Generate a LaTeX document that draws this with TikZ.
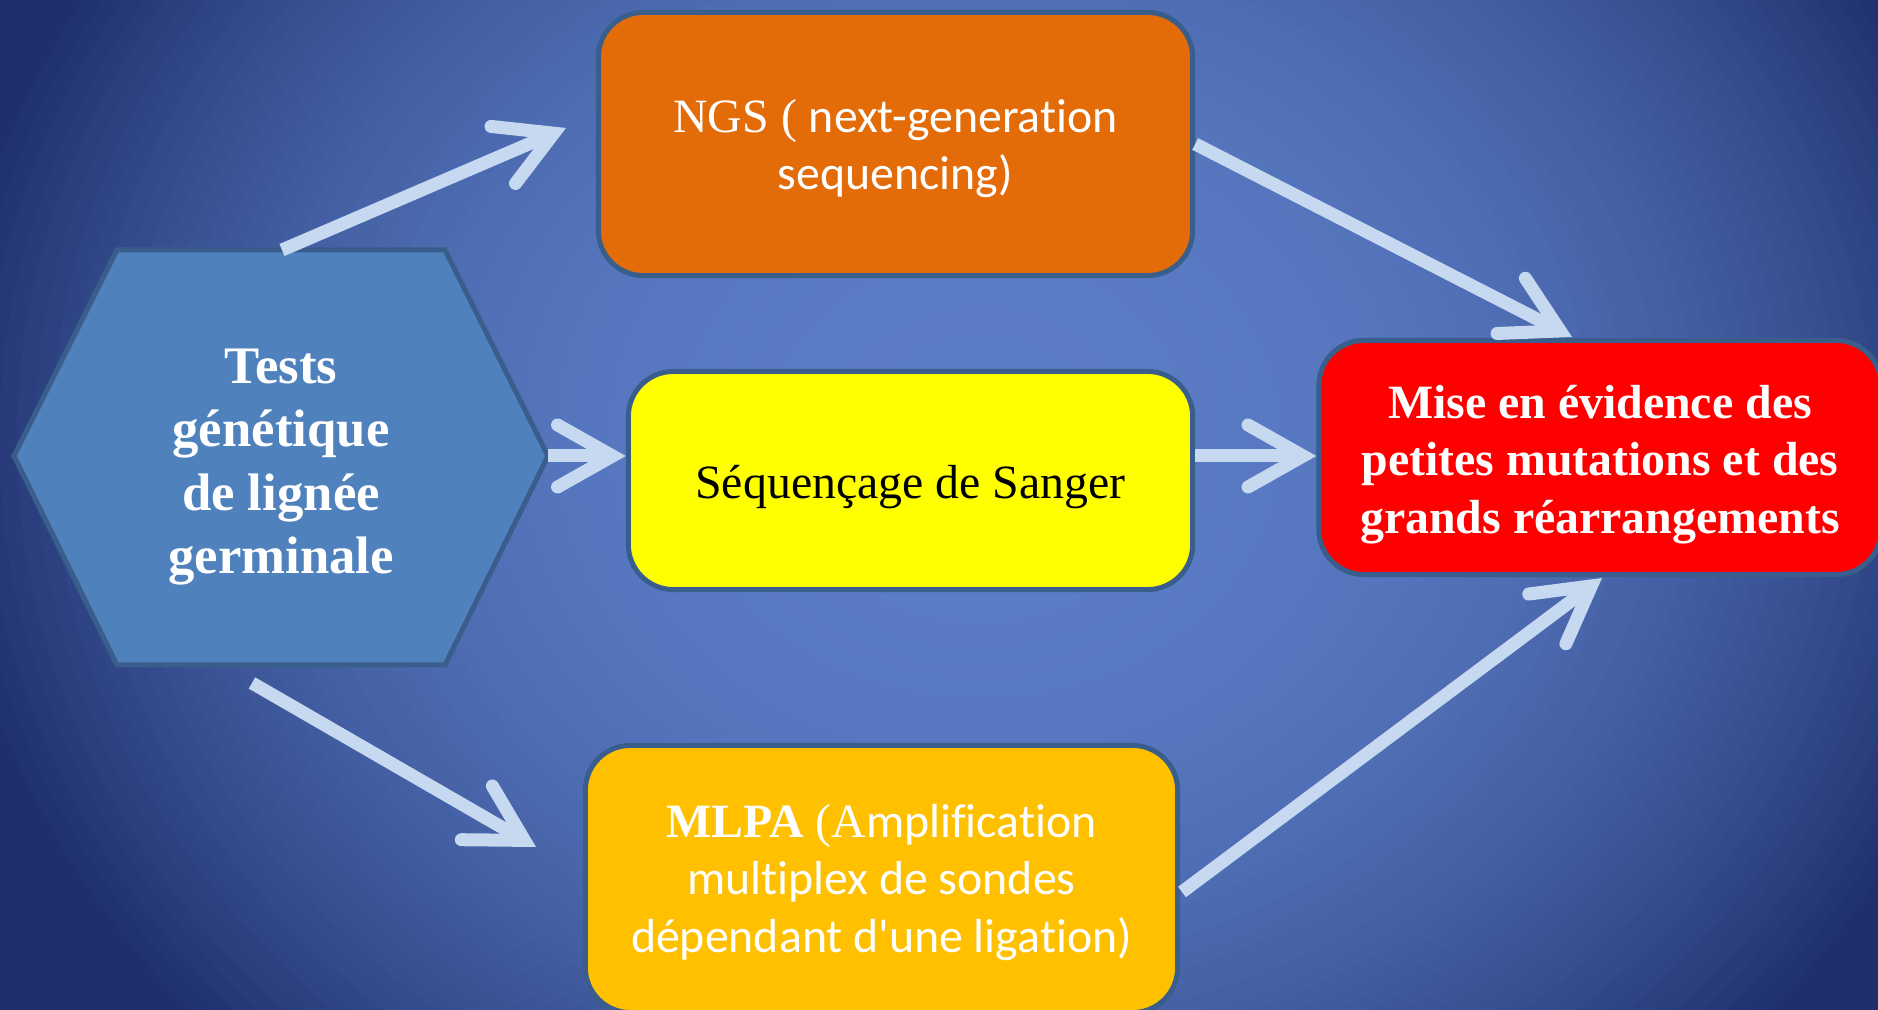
\documentclass[tikz,border=0pt]{standalone}
\usepackage{fontspec}
\setmainfont{Liberation Serif}
\newfontfamily\calibri[Ligatures=NoCommon]{Carlito}
\usepackage{tikz}
\usetikzlibrary{arrows.meta}
\usetikzlibrary{calc}
\usepackage{xcolor}
\definecolor{bglight}{HTML}{5B7DC6}
\definecolor{bgdark}{HTML}{1F2F6C}
\definecolor{myborder}{HTML}{3A5E8C}
\definecolor{hexblue}{HTML}{4F81BD}
\definecolor{ngsorange}{HTML}{E36C09}
\definecolor{sangeryellow}{HTML}{FFFF00}
\definecolor{resultred}{HTML}{FF0000}
\definecolor{mlpaamber}{HTML}{FFC000}
\definecolor{arrowblue}{HTML}{C6D9F0}
\tikzset{x=0.01cm, y=-0.01cm, every text node part/.style={align=center}}
\tikzstyle{block} = [draw=myborder, line width=0.05cm, rounded corners=0.45cm, inner sep=0.2cm, text=white, font={\fontsize{13.6}{16.3}\selectfont}]
\tikzstyle{hexa} = [draw=myborder, fill=hexblue, line width=0.05cm, line join=miter]
\tikzstyle{ln} = [draw=arrowblue, line width=0.13cm, arrows={-Straight Barb[length=0.55cm, width=0.62cm, line cap=round, line join=miter]}]

\begin{document}
\begin{tikzpicture}
  \useasboundingbox (0,0) rectangle (1878,1010);
  \clip (0,0) rectangle (1878,1010);
  % background glow
  \fill[bgdark] (0,0) rectangle (1878,1010);
  \foreach \k in {60,...,1} {
    \pgfmathsetmacro\d{100*(\k/60)^2.5}
    \pgfmathsetmacro\rx{10.5*\k/60}
    \pgfmathsetmacro\ry{9.0*\k/60}
    \fill[bgdark!\d!bglight] (980,440) ellipse [x radius=\rx cm, y radius=\ry cm];
  }
  % hexagon
  \coordinate (hexL) at (14,456);
  \coordinate (hexTL) at (117,250);
  \coordinate (hexTR) at (445,250);
  \coordinate (hexR) at (548,456);
  \coordinate (hexBR) at (445,665);
  \coordinate (hexBL) at (117,665);
  \coordinate (hexT) at (282,250);
  \draw[hexa] (hexL) -- (hexTL) -- (hexTR) -- (hexR) -- (hexBR) -- (hexBL) -- cycle;
  \node[text=white, font={\fontsize{15}{18}\selectfont\bfseries}] (tests) at (281,467) {Tests\\génétique\\de lignée\\germinale};
  % boxes
  \node[block, fill=ngsorange, minimum width=5.94cm, minimum height=2.63cm] (ngs) at (895.5,144) {\rule{0pt}{12.2pt}NGS ( {\calibri next-generation}\\{\calibri sequencing)}};
  \node[block, fill=sangeryellow, text=black, minimum width=5.64cm, minimum height=2.18cm] (sanger) at (910.5,480.5) {\rule{0pt}{13.2pt}Séquençage de Sanger};
  \node[block, fill=resultred, minimum width=5.62cm, minimum height=2.34cm, font={\fontsize{13.6}{16.4}\selectfont\bfseries}] (result) at (1600,457.5) {\rule{0pt}{13.5pt}Mise en évidence des\\petites mutations et des\\grands réarrangements};
  \node[block, fill=mlpaamber, minimum width=5.92cm, minimum height=2.67cm] (mlpa) at (881.5,879) {\rule{0pt}{11.4pt}{\bfseries MLPA} (A{\calibri mplification}\\{\calibri multiplex de sondes}\\{\calibri dépendant d'une ligation)}};
  % arrow tips
  \coordinate (tipngs) at (566,128);
  \coordinate (tipmlpa) at (536,847);
  \coordinate (tipres1) at (1572,337);
  \coordinate (tipres3) at (1602,578);
  \coordinate (startres3) at (1182,892);
  \draw[ln] (hexT) -- (tipngs);
  \draw[ln] (hexR) -- (hexR -| sanger.west);
  \draw[ln] (252,683) -- (tipmlpa);
  \draw[ln] (ngs.east) -- (tipres1);
  \draw[ln] (hexR -| sanger.east) -- (hexR -| result.west);
  \draw[ln] (startres3) -- (tipres3);
\end{tikzpicture}
\end{document}
